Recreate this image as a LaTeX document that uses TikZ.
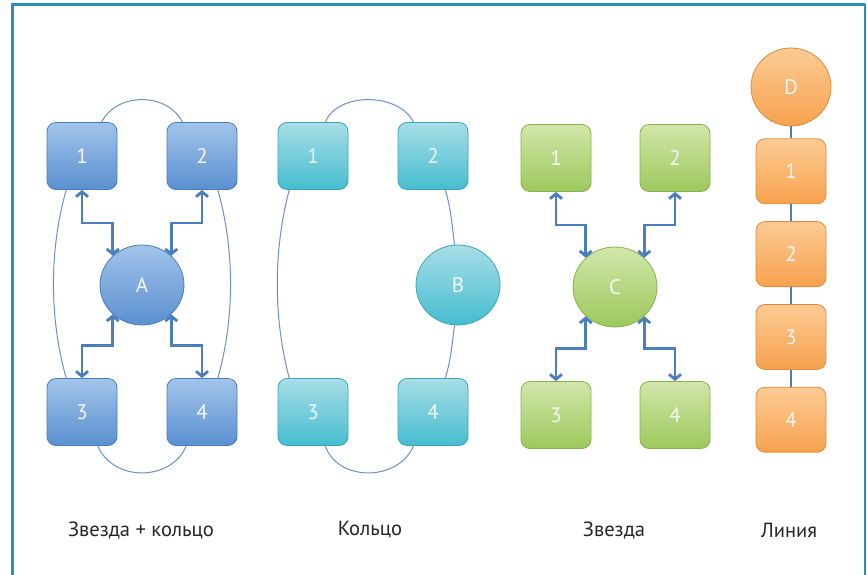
\documentclass[tikz,border=0pt]{standalone}
\usepackage{fontspec}
\setmainfont{PT Sans}
\usetikzlibrary{arrows.meta,shapes.geometric,positioning}

\definecolor{framecol}{HTML}{2A8DC0}
\definecolor{linkcol}{HTML}{4A7EBE}
\definecolor{ringcol}{HTML}{6A90C8}
\definecolor{blueTop}{HTML}{A2C4EA}
\definecolor{blueBot}{HTML}{5A90D0}
\definecolor{blueRim}{HTML}{4C7CB8}
\definecolor{cyanTop}{HTML}{A8DEE7}
\definecolor{cyanBot}{HTML}{45BDD0}
\definecolor{cyanRim}{HTML}{3AA6B8}
\definecolor{greenTop}{HTML}{D2E6AA}
\definecolor{greenBot}{HTML}{9CC95C}
\definecolor{greenRim}{HTML}{88B04C}
\definecolor{orangeTop}{HTML}{FCCB94}
\definecolor{orangeBot}{HTML}{F7A24E}
\definecolor{orangeRim}{HTML}{DE8B3C}

\begin{document}
\begin{tikzpicture}[x=1pt,y=-1pt,>={Straight Barb[length=5pt,width=12pt,line width=2.8pt]}]

  \tikzstyle{box}=[rectangle,rounded corners=9pt,minimum width=70pt,minimum height=67pt,
                   line width=0.8pt,text=white!92!gray,font=\fontsize{21}{24}\selectfont]
  \tikzstyle{hub}=[ellipse,minimum width=84pt,minimum height=80pt,
                   line width=0.8pt,text=white!92!gray,font=\fontsize{21}{24}\selectfont]
  \tikzstyle{blue}=[draw=blueRim,top color=blueTop,bottom color=blueBot]
  \tikzstyle{cyan}=[draw=cyanRim,top color=cyanTop,bottom color=cyanBot]
  \tikzstyle{green}=[draw=greenRim,top color=greenTop,bottom color=greenBot]
  \tikzstyle{orange}=[draw=orangeRim,top color=orangeTop,bottom color=orangeBot]
  \tikzstyle{star link}=[draw=linkcol,line width=2.8pt,<->]
  \tikzstyle{ring link}=[draw=ringcol,line width=1pt]
  \tikzstyle{caption}=[font=\fontsize{20.5}{24}\selectfont,text=black!85]

  \useasboundingbox (0,0) rectangle (867,574);
  \draw[framecol,line width=3pt] (12,580) -- (12,4) -- (865,4);
  \draw[framecol,line width=2pt] (865,4) -- (865,580);

  % Star + ring
  \node [box,blue]  (a1) at (82,156)  {1};
  \node [box,blue]  (a2) at (202,156) {2};
  \node [box,blue]  (a3) at (82,412)  {3};
  \node [box,blue]  (a4) at (202,412) {4};
  \node [hub,blue]  (ah) at (142,285) {A};

  \draw [ring link] (a1.60)  .. controls +(15,-30) and +(-15,-30) .. (a2.120);
  \draw [ring link] (a1.245) .. controls +(-17,60) and +(-17,-60) .. (a3.115);
  \draw [ring link] (a2.295) .. controls +(17,60) and +(17,-60)   .. (a4.65);
  \draw [ring link] (a3.-65) .. controls +(15,36) and +(-15,36)   .. (a4.245);

  \draw [star link] (a1.south) -- ++(0,33) -| (ah.135);
  \draw [star link] (a2.south) -- ++(0,33) -| (ah.45);
  \draw [star link] (a3.north) -- ++(0,-33) -| (ah.225);
  \draw [star link] (a4.north) -- ++(0,-33) -| (ah.315);

  % Ring
  \node [box,cyan]  (b1) at (313,156) {1};
  \node [box,cyan]  (b2) at (433,156) {2};
  \node [box,cyan]  (b3) at (313,412) {3};
  \node [box,cyan]  (b4) at (433,412) {4};
  \node [hub,cyan]  (bh) at (458,285) {B};

  \draw [ring link] (b1.70)  .. controls +(12,-30) and +(-15,-30) .. (b2.120);
  \draw [ring link] (b1.235) .. controls +(-16,60) and +(-16,-60) .. (b3.125);
  \draw [ring link] (b2.290) .. controls +(6,20) and +(-2,-15)    .. (bh.95);
  \draw [ring link] (bh.265) .. controls +(-2,15) and +(6,-20)    .. (b4.70);
  \draw [ring link] (b3.-70) .. controls +(12,36) and +(-15,36)   .. (b4.240);

  % Star
  \node [box,green] (c1) at (556,158) {1};
  \node [box,green] (c2) at (675,158) {2};
  \node [box,green] (c3) at (556,415) {3};
  \node [box,green] (c4) at (675,415) {4};
  \node [hub,green] (ch) at (615,287) {C};

  \draw [star link] (c1.south) -- ++(0,33) -| (ch.135);
  \draw [star link] (c2.south) -- ++(0,33) -| (ch.45);
  \draw [star link] (c3.north) -- ++(0,-33) -| (ch.225);
  \draw [star link] (c4.north) -- ++(0,-33) -| (ch.315);

  % Line
  \node [hub,orange,minimum width=80pt,minimum height=78pt] (dh) at (791,87) {D};
  \node [box,orange,minimum height=65pt] (d1) [below=12pt of dh] {1};
  \node [box,orange,minimum height=65pt] (d2) [below=17pt of d1] {2};
  \node [box,orange,minimum height=65pt] (d3) [below=17pt of d2] {3};
  \node [box,orange,minimum height=65pt] (d4) [below=17pt of d3] {4};

  \draw [draw=linkcol,line width=2.8pt] (dh) -- (d1) (d1) -- (d2) (d2) -- (d3) (d3) -- (d4);

  % captions
  \node [caption] (capA) at (141,530) {Звезда + кольцо};
  \node [caption] (capB) at (370,530) {Кольцо};
  \node [caption] (capC) at (614,530) {Звезда};
  \node [caption] (capD) at (789,530) {Линия};
\end{tikzpicture}
\end{document}
